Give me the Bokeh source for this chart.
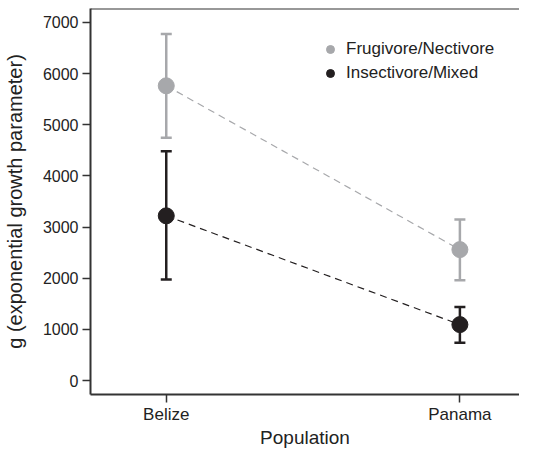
from bokeh.plotting import figure
from bokeh.models import (Range1d, FixedTicker, ColumnDataSource, Whisker, Legend,
                          LegendItem, Span)
from bokeh.embed import file_html
from bokeh.resources import INLINE

populations = ["Belize", "Panama"]
series_names = ["Frugivore/Nectivore", "Insectivore/Mixed"]
frug_mean = [5760, 2560]
frug_upper = [6770, 3150]
frug_lower = [4745, 1960]
insect_mean = [3220, 1095]
insect_upper = [4480, 1440]
insect_lower = [1975, 740]
y_ticks = [0, 1000, 2000, 3000, 4000, 5000, 6000, 7000]

GREY = "#a7a8ab"
BLACK = "#231f20"
AXIS = "#333333"
FONT = "Liberation Sans"

xs = [i + 1 for i in range(len(populations))]

p = figure(output_backend="svg", toolbar_location=None,
           width=519, height=450,
           min_border_left=88, min_border_right=0, min_border_top=8, min_border_bottom=50,
           x_range=Range1d(0.742, 2.203), y_range=Range1d(-270, 7270))
p.grid.visible = False
p.outline_line_color = None
p.background_fill_color = "white"

# axes
p.xaxis.ticker = FixedTicker(ticks=xs)
p.xaxis.major_label_overrides = {x: n for x, n in zip(xs, populations)}
p.yaxis.ticker = FixedTicker(ticks=y_ticks)
for ax in (p.xaxis, p.yaxis):
    ax.axis_line_color = AXIS
    ax.axis_line_width = 2
    ax.major_tick_line_color = AXIS
    ax.major_tick_line_width = 1.5
    ax.major_tick_out = 8
    ax.major_tick_in = 0
    ax.minor_tick_line_color = None
    ax.major_label_text_font = FONT
    ax.major_label_text_color = "#222222"
    ax.axis_label_text_font = FONT
    ax.axis_label_text_font_style = "normal"
    ax.axis_label_text_color = "#222222"
p.yaxis.major_label_text_font_size = "16px"
p.xaxis.major_label_text_font_size = "17px"
p.yaxis.axis_label_text_font_size = "20px"
p.xaxis.axis_label_text_font_size = "19px"
p.yaxis.major_label_standoff = 4
p.xaxis.major_label_standoff = 2
p.xaxis.axis_label = "Population"
p.xaxis.axis_label_standoff = 0
p.yaxis.axis_label = "g (exponential growth parameter)"
p.yaxis.axis_label_standoff = 14

# top border
p.add_layout(Span(location=p.y_range.end, dimension="width", line_color=AXIS, line_width=2))

src_f = ColumnDataSource(dict(x=xs, y=frug_mean, up=frug_upper, lo=frug_lower))
src_i = ColumnDataSource(dict(x=xs, y=insect_mean, up=insect_upper, lo=insect_lower))

# dashed connecting lines
p.line("x", "y", source=src_f, line_color=GREY, line_width=1.2, line_dash="7 5")
p.line("x", "y", source=src_i, line_color=BLACK, line_width=1.2, line_dash="7 5")

# error bars
for src, col in ((src_f, GREY), (src_i, BLACK)):
    w = Whisker(base="x", upper="up", lower="lo", source=src,
                line_color=col, line_width=2.5)
    w.upper_head.size = 11
    w.lower_head.size = 11
    w.upper_head.line_color = col
    w.lower_head.line_color = col
    w.upper_head.line_width = 2.5
    w.lower_head.line_width = 2.5
    p.add_layout(w)

rf = p.scatter("x", "y", source=src_f, size=16, fill_color=GREY, line_color=GREY)
ri = p.scatter("x", "y", source=src_i, size=16, fill_color=BLACK, line_color=BLACK)

legend = Legend(items=[LegendItem(label=series_names[0], renderers=[rf]),
                       LegendItem(label=series_names[1], renderers=[ri])],
                location=(230, 311), orientation="vertical",
                background_fill_alpha=0, border_line_color=None,
                padding=0, margin=0, spacing=4,
                glyph_width=20, glyph_height=20, label_standoff=6,
                label_text_font=FONT, label_text_font_size="17px",
                label_text_color="#222222")
p.add_layout(legend)

open("out.html", "w").write(file_html(p, INLINE))
